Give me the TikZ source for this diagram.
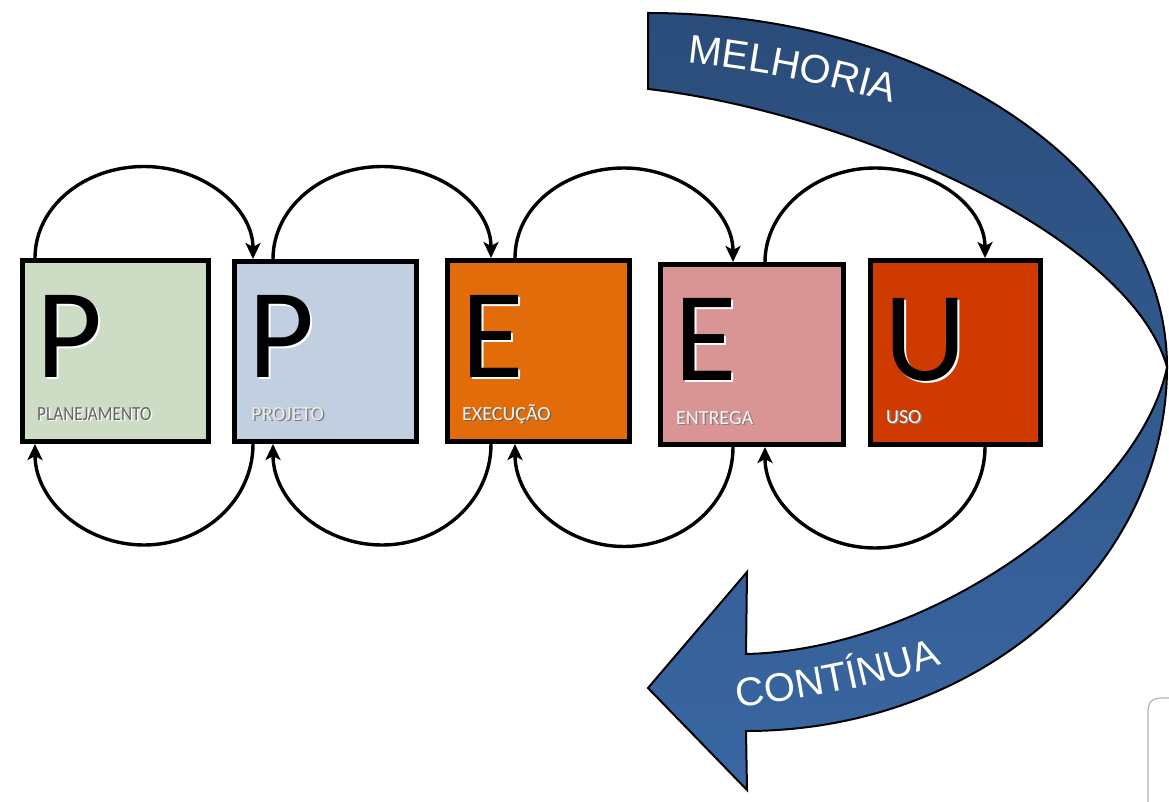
\documentclass[tikz,border=0pt]{standalone}
\usepackage{fontspec}
\setmainfont{Carlito}
\newfontfamily\ribbonfont{Liberation Sans}
\usetikzlibrary{arrows.meta,decorations.text,calc}
\definecolor{cplan}{RGB}{204,220,197}
\definecolor{cproj}{RGB}{193,207,224}
\definecolor{cexec}{RGB}{227,108,10}
\definecolor{centr}{RGB}{217,149,148}
\definecolor{cuso}{RGB}{206,58,0}
\definecolor{ribtop}{RGB}{42,76,122}
\definecolor{ribbot}{RGB}{58,103,163}
% half-elliptic connectors between two named anchor points
\newcommand\myTopArc[2]{%
  \draw[flow] (#1) .. controls +(0,-51) and +(-60,0) .. ($(#1)!.5!(#2)+(0,-92)$)
    .. controls +(60,0) and +(0,-51) .. (#2);}
\newcommand\myBotArc[2]{%
  \draw[flow] (#1) .. controls +(0,56) and +(60,0) .. ($(#1)!.5!(#2)+(0,101)$)
    .. controls +(-60,0) and +(0,56) .. (#2);}
\begin{document}
\begin{tikzpicture}[x=1pt,y=-1pt,
  stage/.style={draw=black, line width=5pt, inner sep=0pt, rectangle},
  bigletter/.style={inner sep=0pt, anchor=base west, font=\fontsize{128}{128}\selectfont},
  stagelabel/.style={inner sep=0pt, anchor=base west, font=\fontsize{20}{20}\selectfont},
  flow/.style={line width=3.4pt, -{Stealth[length=16pt,width=15pt,inset=4pt]}},
]
\useasboundingbox (0,0) rectangle (1169,802);

% stage boxes
\node[stage, fill=cplan, minimum width=186pt, minimum height=181pt] (b1) at (115.5,351) {};
\node[stage, fill=cproj, minimum width=182pt, minimum height=180pt] (b2) at (325.5,351.5) {};
\node[stage, fill=cexec, minimum width=182pt, minimum height=181pt] (b3) at (538.5,351) {};
\node[stage, fill=centr, minimum width=183pt, minimum height=180pt] (b4) at (752,354.5) {};
\node[stage, fill=cuso, minimum width=170pt, minimum height=184pt] (b5) at (955.5,352.5) {};

% connector end points on the boxes
\coordinate (o1) at ([xshift=15pt]b1.north west);
\coordinate (i2) at ([xshift=21pt]b2.north west);
\coordinate (o2) at ([xshift=41pt]b2.north west);
\coordinate (i3) at ([xshift=46pt]b3.north west);
\coordinate (o3) at ([xshift=70pt]b3.north west);
\coordinate (i4) at ([xshift=75pt]b4.north west);
\coordinate (o4) at ([xshift=107pt]b4.north west);
\coordinate (i5) at ([xshift=117pt]b5.north west);
\coordinate (u1) at ([xshift=15pt]b1.south west);
\coordinate (v2) at ([xshift=21pt]b2.south west);
\coordinate (u2) at ([xshift=41pt]b2.south west);
\coordinate (v3) at ([xshift=46pt]b3.south west);
\coordinate (u3) at ([xshift=70pt]b3.south west);
\coordinate (v4) at ([xshift=75pt]b4.south west);
\coordinate (u4) at ([xshift=107pt]b4.south west);
\coordinate (v5) at ([xshift=117pt]b5.south west);

% big letters (with light emboss)
\node[bigletter, text=white] (l1s) at ([xshift=18pt,yshift=65pt]b1.south west) {P};
\node[bigletter] (l1) at ([xshift=16pt,yshift=67pt]b1.south west) {P};
\node[bigletter, text=white] (l2s) at ([xshift=18pt,yshift=65pt]b2.south west) {P};
\node[bigletter] (l2) at ([xshift=16pt,yshift=67pt]b2.south west) {P};
\node[bigletter, text=white] (l3s) at ([xshift=18pt,yshift=65pt]b3.south west) {E};
\node[bigletter] (l3) at ([xshift=16pt,yshift=67pt]b3.south west) {E};
\node[bigletter, text=white] (l4s) at ([xshift=18pt,yshift=65pt]b4.south west) {E};
\node[bigletter] (l4) at ([xshift=16pt,yshift=67pt]b4.south west) {E};
\node[bigletter, text=white] (l5s) at ([xshift=18pt,yshift=65pt]b5.south west) {U};
\node[bigletter] (l5) at ([xshift=16pt,yshift=67pt]b5.south west) {U};

% small labels
\node[stagelabel, text=white] (t1s) at ([xshift=18.5pt,yshift=22.5pt]b1.south west) {\scalebox{0.86}[1]{PLANEJAMENTO}};
\node[stagelabel, text=black!60] (t1) at ([xshift=17pt,yshift=24pt]b1.south west) {\scalebox{0.86}[1]{PLANEJAMENTO}};
\node[stagelabel, text=black!50] (t2s) at ([xshift=20.5pt,yshift=22.5pt]b2.south west) {PROJETO};
\node[stagelabel, text=black!8] (t2) at ([xshift=19pt,yshift=24pt]b2.south west) {PROJETO};
\node[stagelabel, text=black!60] (t3s) at ([xshift=18.5pt,yshift=22.5pt]b3.south west) {EXECUÇÃO};
\node[stagelabel, text=orange!10] (t3) at ([xshift=17pt,yshift=24pt]b3.south west) {EXECUÇÃO};
\node[stagelabel, text=black!50] (t4s) at ([xshift=19.5pt,yshift=21.5pt]b4.south west) {ENTREGA};
\node[stagelabel, text=white!95!red] (t4) at ([xshift=18pt,yshift=23pt]b4.south west) {ENTREGA};
\node[stagelabel, text=black!50] (t5s) at ([xshift=19.5pt,yshift=22.5pt]b5.south west) {USO};
\node[stagelabel, text=white] (t5) at ([xshift=18pt,yshift=24pt]b5.south west) {USO};

% forward arcs (top)
\myTopArc{o1}{i2}
\myTopArc{o2}{i3}
\myTopArc{o3}{i4}
\myTopArc{o4}{i5}

% backward arcs (bottom)
\myBotArc{v2}{u1}
\myBotArc{v3}{u2}
\myBotArc{v4}{u3}
\myBotArc{v5}{u4}

% big ribbon arrow
\shadedraw[top color=ribtop, bottom color=ribbot, draw=black, line width=2pt, line join=miter]
  (648,89) -- (648,13)
  .. controls (934,13) and (1167,172) .. (1167,367)
  .. controls (1167,568) and (978,731) .. (746,731)
  -- (747,790) -- (648,688) -- (747,572) -- (746,654)
  .. controls (930,650) and (1140,500) .. (1167,367)
  .. controls (1130,235) and (850,112) .. (648,89) -- cycle;

\path[decorate, decoration={text along path, text align=center,
  text={|\ribbonfont\fontsize{40}{40}\selectfont\color{white}|MELHORIA}}]
  (678,62) .. controls (760,70) and (830,84) .. (902,106);
\path[decorate, decoration={text along path, text align=center,
  text={|\ribbonfont\fontsize{40}{40}\selectfont\color{white}|CONTÍNUA}}]
  (724,709) .. controls (805,699) and (885,686) .. (955,659);

% faint window corner at the lower right
\draw[black!30, line width=1.2pt] (1148,802) -- (1148,712) .. controls (1148,702) and (1152,698) .. (1162,698) -- (1169,698);
\end{tikzpicture}
\end{document}
